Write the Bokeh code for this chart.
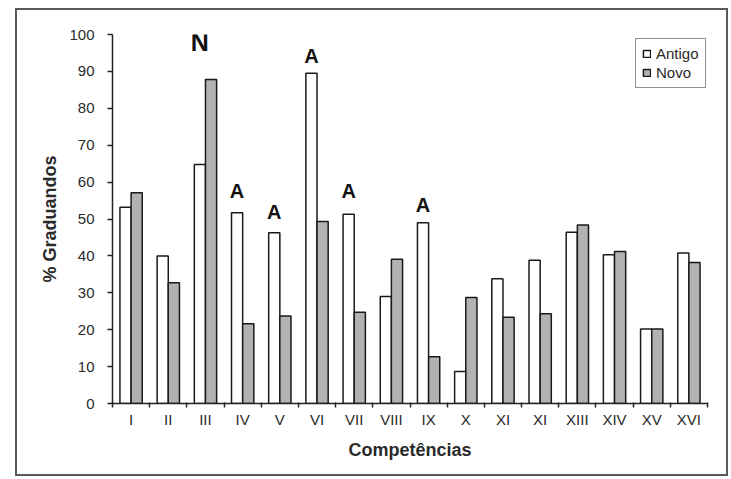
from bokeh.plotting import figure
from bokeh.models import ColumnDataSource, FixedTicker, Legend, LegendItem, Range1d
from bokeh.core.properties import value
from bokeh.embed import file_html
from bokeh.resources import INLINE

# ---- data ----
categories = ["I", "II", "III", "IV", "V", "VI", "VII", "VIII", "IX", "X",
              "XI", "XI", "XIII", "XIV", "XV", "XVI"]
antigo = [53.2, 40.0, 64.8, 51.7, 46.3, 89.5, 51.3, 29.0, 49.0, 8.7,
          33.8, 38.8, 46.4, 40.3, 20.2, 40.8]
novo = [57.1, 32.7, 87.8, 21.6, 23.7, 49.3, 24.7, 39.1, 12.7, 28.7,
        23.4, 24.3, 48.4, 41.2, 20.2, 38.2]
y_ticks = [0, 10, 20, 30, 40, 50, 60, 70, 80, 90, 100]

# annotations: letter, category index, height (value) of letter bottom
ann_big_text = ["N"]
ann_big_cat = [2]
ann_big_y = [94.3]
ann_text = ["A", "A", "A", "A", "A"]
ann_cat = [3, 4, 5, 6, 8]
ann_y = [54.5, 48.8, 91.1, 54.5, 50.9]

FONT = "Liberation Sans"
BAR_W = 0.3

idx = list(range(len(categories)))
src = ColumnDataSource(dict(
    xa=[i + 0.5 - BAR_W / 2 for i in idx],
    xn=[i + 0.5 + BAR_W / 2 for i in idx],
    antigo=antigo, novo=novo,
))

p = figure(width=713, height=468, output_backend="svg", toolbar_location=None,
           x_range=Range1d(0, len(categories)), y_range=Range1d(0, 100),
           min_border_left=95, min_border_right=23, min_border_top=24,
           min_border_bottom=75)
p.margin = (8, 0, 0, 15)
p.styles = {"border": "2px solid #5a5a5a"}
p.outline_line_color = None
p.xgrid.grid_line_color = None
p.ygrid.grid_line_color = None
p.background_fill_color = "white"
p.border_fill_color = "white"

ra = p.vbar(x="xa", top="antigo", width=BAR_W, bottom=0, source=src,
            fill_color="white", line_color="#1a1a1a", line_width=1.5)
rn = p.vbar(x="xn", top="novo", width=BAR_W, bottom=0, source=src,
            fill_color="#b2b2b2", line_color="#1a1a1a", line_width=1.5)

# annotation letters
p.text(x=[c + 0.5 - BAR_W / 2 for c in ann_big_cat], y=ann_big_y, text=ann_big_text,
       text_font=value(FONT), text_font_style="bold", text_font_size="25px",
       text_align="center", text_baseline="bottom", text_color="#111111")
p.text(x=[c + 0.5 - BAR_W / 2 for c in ann_cat], y=ann_y, text=ann_text,
       text_font=value(FONT), text_font_style="bold", text_font_size="20px",
       text_align="center", text_baseline="bottom", text_color="#111111")

# x axis
xa = p.xaxis[0]
xa.ticker = FixedTicker(ticks=[i + 0.5 for i in idx], minor_ticks=list(range(len(categories) + 1)))
xa.major_label_overrides = {i + 0.5: c for i, c in zip(idx, categories)}
xa.major_tick_out = 0
xa.major_tick_in = 0
xa.minor_tick_out = 4
xa.minor_tick_in = 1
xa.minor_tick_line_color = "#222222"
xa.minor_tick_line_width = 1.5
xa.axis_line_color = "#222222"
xa.axis_line_width = 1.5
xa.major_label_text_font = FONT
xa.major_label_text_font_size = "15px"
xa.major_label_text_color = "#2a2a2a"
xa.major_label_standoff = 3
xa.axis_label = "Competências"
xa.axis_label_text_font = FONT
xa.axis_label_text_font_style = "bold"
xa.axis_label_text_font_size = "18px"
xa.axis_label_text_color = "#2a2a2a"
xa.axis_label_standoff = 9

# y axis
ya = p.yaxis[0]
ya.ticker = FixedTicker(ticks=y_ticks)
ya.major_tick_out = 5
ya.major_tick_in = 0
ya.minor_tick_out = 0
ya.minor_tick_in = 0
ya.major_tick_line_color = "#222222"
ya.major_tick_line_width = 1.5
ya.axis_line_color = "#222222"
ya.axis_line_width = 1.5
ya.major_label_text_font = FONT
ya.major_label_text_font_size = "15px"
ya.major_label_text_color = "#2a2a2a"
ya.major_label_standoff = 13
ya.axis_label = "% Graduandos"
ya.axis_label_text_font = FONT
ya.axis_label_text_font_style = "bold"
ya.axis_label_text_font_size = "18px"
ya.axis_label_text_color = "#2a2a2a"
ya.axis_label_standoff = 6

# legend
legend = Legend(items=[LegendItem(label="Antigo", renderers=[ra]),
                       LegendItem(label="Novo", renderers=[rn])],
                location=(523, 315))
legend.border_line_color = "#222222"
legend.border_line_width = 1.5
legend.label_text_font = FONT
legend.label_text_font_size = "15px"
legend.label_text_color = "#2a2a2a"
legend.glyph_width = 9
legend.glyph_height = 9
legend.label_standoff = 5
legend.label_height = 16
legend.spacing = 2
legend.padding = 6
legend.margin = 0
legend.background_fill_color = "white"
p.add_layout(legend)

open("out.html", "w").write(file_html(p, INLINE))
